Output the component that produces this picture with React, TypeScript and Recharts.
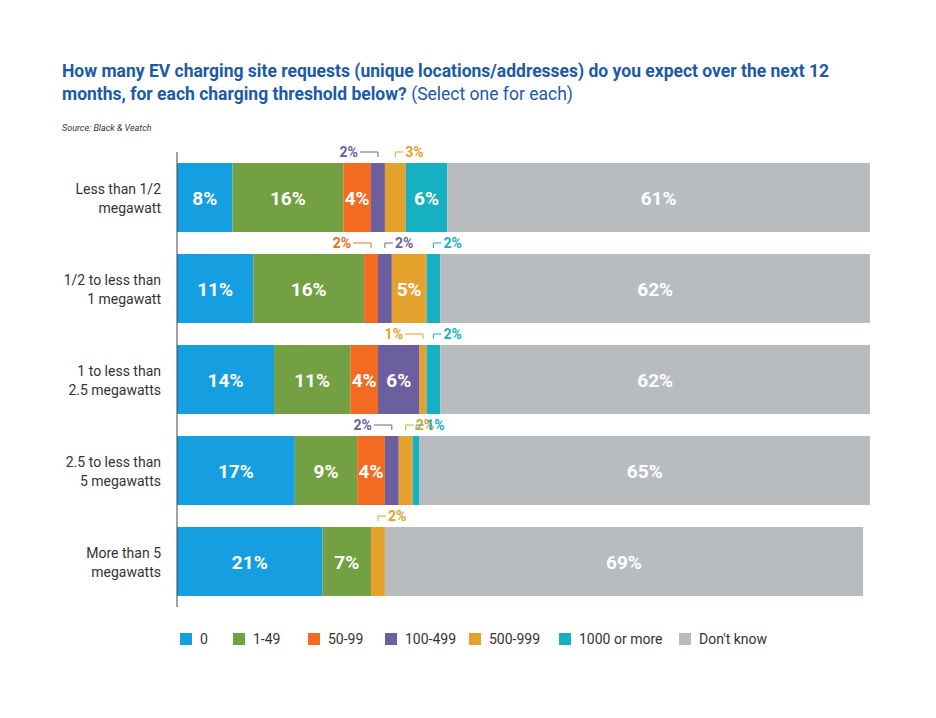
import { BarChart, Bar, XAxis, YAxis, LabelList } from "recharts";

const categories = [
  "Less than 1/2\nmegawatt",
  "1/2 to less than\n1 megawatt",
  "1 to less than\n2.5 megawatts",
  "2.5 to less than\n5 megawatts",
  "More than 5\nmegawatts",
];
const zero = [8, 11, 14, 17, 21];
const oneTo49 = [16, 16, 11, 9, 7];
const fiftyTo99 = [4, 2, 4, 4, 0];
const hundredTo499 = [2, 2, 6, 2, 0];
const fiveHundredTo999 = [3, 5, 1, 2, 2];
const thousandPlus = [6, 2, 2, 1, 0];
const dontKnow = [61, 62, 62, 65, 69];

const series = [
  { key: "0", values: zero, color: "#159fe0" },
  { key: "1-49", values: oneTo49, color: "#74a044" },
  { key: "50-99", values: fiftyTo99, color: "#f26b21" },
  { key: "100-499", values: hundredTo499, color: "#6b5fa0" },
  { key: "500-999", values: fiveHundredTo999, color: "#e4a12b" },
  { key: "1000 or more", values: thousandPlus, color: "#17b0c0" },
  { key: "Don't know", values: dontKnow, color: "#b9bcbf" },
];
const legendX = [180, 233, 308, 385, 469, 559, 679];

const data = categories.map((c, i) => {
  const row: Record<string, any> = { name: c };
  series.forEach((s) => (row[s.key] = s.values[i]));
  return row;
});

const font = "Roboto, 'Liberation Sans', sans-serif";

function isSmall(v: number) {
  return v > 0 && v < 4;
}

function makeLabel(si: number) {
  const color = series[si].color;
  return (props: any) => {
    const { x, y, width, height, value, index } = props;
    if (!value) return null;
    if (value >= 4) {
      return (
        <text x={x + width / 2} y={y + height / 2 + 7} textAnchor="middle" fill="#fff"
          fontSize={19} fontWeight={700} fontFamily={font}>{value}%</text>
      );
    }
    const cx = x + width / 2;
    const prevSmall = series.slice(0, si).some((s) => isSmall(s.values[index]));
    const nextSmall = series.slice(si + 1).some((s) => isSmall(s.values[index]));
    const ly = y - 11;
    if (!prevSmall && nextSmall) {
      return (
        <g>
          <polyline points={`${cx - 18},${ly} ${cx},${ly} ${cx},${ly + 5}`} fill="none" stroke={color} strokeWidth={1} />
          <text x={cx - 20} y={y - 6} textAnchor="end" fill={color}
            fontSize={14} fontWeight={700} fontFamily={font}>{value}%</text>
        </g>
      );
    }
    return (
      <g>
        <polyline points={`${cx},${ly + 5} ${cx},${ly} ${cx + 8},${ly}`} fill="none" stroke={color} strokeWidth={1} />
        <text x={cx + 10} y={y - 6} textAnchor="start" fill={color}
          fontSize={14} fontWeight={700} fontFamily={font}>{value}%</text>
      </g>
    );
  };
}

function Tick(props: any) {
  const { x, y, payload } = props;
  const lines = String(payload.value).split("\n");
  return (
    <text x={x - 14} y={y - 4} textAnchor="end" fill="#333" fontSize={14} fontFamily={font}>
      {lines.map((l, i) => (
        <tspan key={i} x={x - 8} dy={i === 0 ? 0 : 19}>{l}</tspan>
      ))}
    </text>
  );
}

export default function App() {
  return (
    <div style={{ position: "absolute", left: 0, top: 0, width: 936, height: 718, background: "#fff", fontFamily: font }}>
      <div style={{ position: "absolute", left: 62, top: 60, width: 775, color: "#1c5aa6", fontSize: 17.5, lineHeight: "23px", fontWeight: 700 }}>
        How many EV charging site requests (unique locations/addresses) do you expect over the next 12 months, for each charging threshold below?{" "}
        <span style={{ fontWeight: 400 }}>(Select one for each)</span>
      </div>
      <div style={{ position: "absolute", left: 62, top: 123, fontSize: 9, fontStyle: "italic", color: "#333" }}>
        Source: Black &amp; Veatch
      </div>
      <BarChart width={936} height={718} data={data} layout="vertical"
        margin={{ top: 152, right: 66, bottom: 111, left: 0 }} barSize={69}>
        <XAxis type="number" domain={[0, 100]} hide />
        <YAxis type="category" dataKey="name" width={177} tick={<Tick />} tickLine={false}
          axisLine={{ stroke: "#444" }} />
        {series.map((s, si) => (
          <Bar key={s.key} dataKey={s.key} stackId="a" fill={s.color} isAnimationActive={false}>
            <LabelList dataKey={s.key} content={makeLabel(si)} />
          </Bar>
        ))}
      </BarChart>
      {series.map((s, i) => (
        <div key={s.key} style={{ position: "absolute", left: legendX[i], top: 631, display: "flex", alignItems: "center", fontSize: 14, color: "#333" }}>
          <span style={{ width: 12, height: 12, background: s.color, display: "inline-block", marginRight: 8 }} />
          {s.key}
        </div>
      ))}
    </div>
  );
}
